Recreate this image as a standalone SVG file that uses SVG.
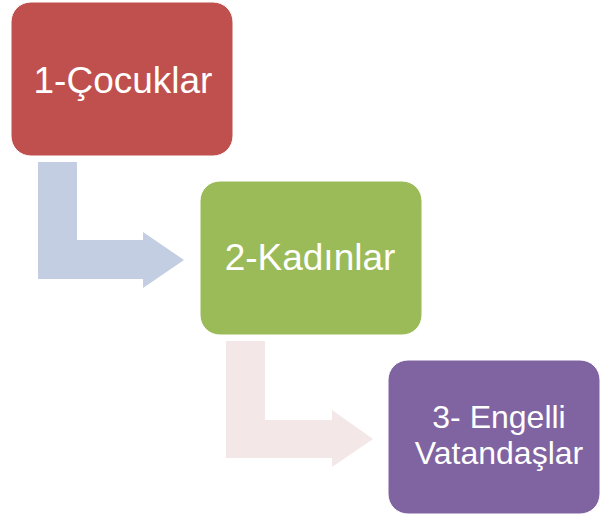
<svg xmlns="http://www.w3.org/2000/svg" width="601" height="517" viewBox="0 0 601 517">
<style>
.box{stroke:#ffffff;stroke-width:1}
.lbl{font-family:"Liberation Sans",Arial,sans-serif;font-size:37px;fill:#ffffff;text-anchor:middle}
.sm{font-size:32px}
</style>
<rect width="601" height="517" fill="#ffffff"/>
<g id="connectors">
<path d="M38,162 H77 V240 H143 V232 L184,260 L143,288 V279 H38 Z" fill="#C3CEE2"/>
<path d="M226,341 H265 V420 H332 V410 L373,439 L332,467 V458 H226 Z" fill="#F3E7E7"/>
</g>
<g id="node1">
<rect class="box" x="11" y="2" width="222" height="154" rx="20" fill="#C0504D"/>
<text class="lbl" x="123" y="93">1-Çocuklar</text>
</g>
<g id="node2">
<rect class="box" x="200" y="181" width="222" height="154" rx="20" fill="#9BBB59"/>
<text class="lbl" x="310" y="270">2-Kadınlar</text>
</g>
<g id="node3">
<rect class="box" x="388" y="360" width="212" height="154" rx="20" fill="#8064A2"/>
<text class="lbl sm" x="499" y="428">3- Engelli</text>
<text class="lbl sm" x="499" y="464">Vatandaşlar</text>
</g>
</svg>
